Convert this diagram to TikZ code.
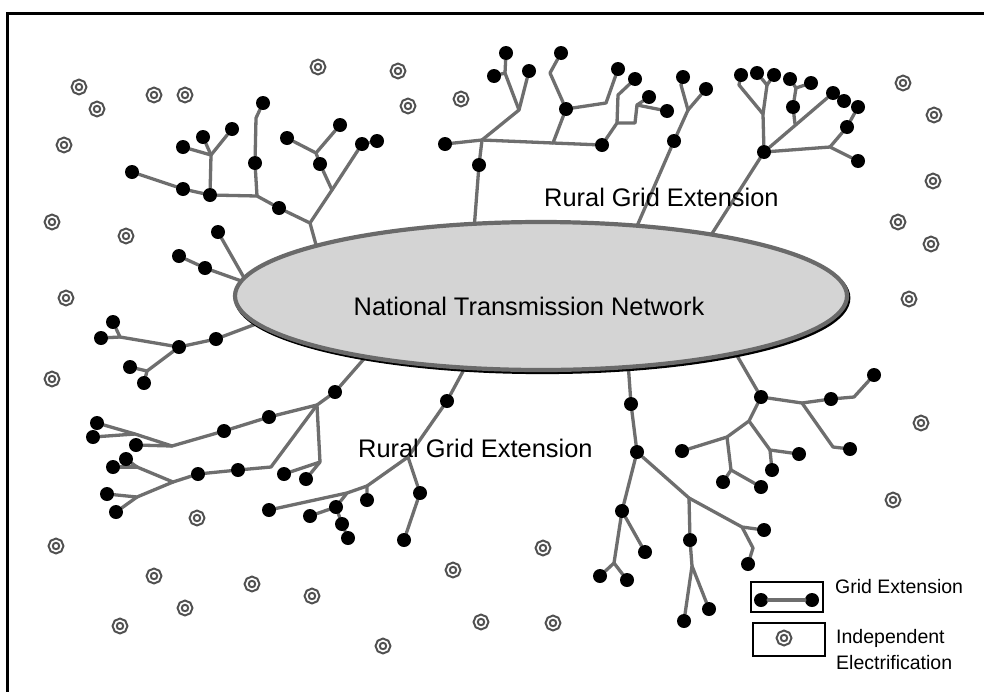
\documentclass[tikz,border=0pt]{standalone}
\usepackage{fontspec}
\setmainfont{Liberation Sans}
\pgfdeclarelayer{paper}
\pgfdeclarelayer{wires}
\pgfsetlayers{paper,wires,main}
\usetikzlibrary{shapes.geometric}
\definecolor{wiregray}{HTML}{6E6E6E}
\definecolor{ringgray}{HTML}{505050}
\definecolor{netfill}{HTML}{D4D4D4}
\definecolor{netline}{HTML}{6A6A6A}
\tikzset{
  wire/.style={draw=wiregray, line width=3.3pt, line join=round, line cap=round},
  dot/.style={circle, fill=black, inner sep=0pt, minimum size=14pt},
  indep/.style={circle, draw=ringgray, line width=2.1pt, double=white, double distance=1.7pt, inner sep=0pt, minimum size=10.7pt},
  bigtxt/.style={font=\fontsize{25.4pt}{30pt}\selectfont, inner sep=0pt},
  legtxt/.style={font=\fontsize{19.5pt}{23pt}\selectfont, inner sep=0pt, anchor=base west},
  legbox/.style={draw=black, line width=1.6pt, inner sep=0pt},
}
\begin{document}
\begin{tikzpicture}[x=1pt, y=-1pt]
\useasboundingbox (0,0) rectangle (984,691);
\clip (0,0) rectangle (984,691);
\begin{pgfonlayer}{paper}
  \fill[white] (0,0) rectangle (984,691);
\end{pgfonlayer}

% outer frame (runs off the right and bottom edges)
\draw[line width=2.7pt] (7.5,720) -- (7.5,13.3) -- (1010,13.3);

% central network
\node[ellipse, draw=black, line width=4.2pt, minimum width=612pt, minimum height=148pt, inner sep=0pt] (netshadow) at (542.3,298) {};
\node[ellipse, draw=netline, fill=netfill, line width=4.2pt, minimum width=612pt, minimum height=148pt, inner sep=0pt] (net) at (541,296) {};
\node[bigtxt, anchor=base] (nettext) at (529,315) {National Transmission Network};

% branch points and points where branches meet the network
\foreach \n/\x/\y in {
  A0/318/252, JA1/310/223, JA2/257/196, JA2b/256/118, JA3/211/155, JA4/332/190, JA5/316/153,
  B0/247/283,
  C0/264/321, JC1/120/337, JC2/147/371,
  D0/370/352, JD1/317/405, JD2/172/446, JD3/135/434, JD4/271/467, JD5/173/482, JD6/137/467, JD7/137/497, JD8/320/462,
  E0/468/362, JE1/408/457, JE2/367/486, JE3/347/493,
  F0/628/362, JF1/614/563, JF2/689/498, JF3/742/527, JF4/753/548, JF5/692/566,
  G0/732/347, JG1/802/403, JG2/854/397, JG3/833/447, JG4/749/421, JG5/727/437, JG6/770/450, JG7/731/470,
  H0/474/230, JH1/482/140, JH2/519/110, JH3/505/73, JH4/553/143, JH5/617/123, JH6/618/95, JH7/635/123, JH8/637/105, JH9/550/73, JH10/606/103,
  I0/634/233, JI1/688/110, JI2/681/85,
  J0/706/243, JJ1/763/114, JJ2/739/85, JJ3/767/85, JJ4/796/88, JJ5/795/124, JJ6/830/147}
  \coordinate (\n) at (\x,\y);

% connected villages
\foreach \n/\x/\y in {
  a1/279/208, a2/255/163, a3/263/103, a4/210/195, a5/183/189, a6/132/172, a7/183/147, a8/203/137, a9/232/129,
  a10/320/164, a11/287/138, a12/340/125, a13/362/144, a14/377/141,
  b1/218/232, b2/205/268, b3/179/256,
  c1/216/339, c2/179/347, c3/113/322, c4/101/338, c5/130/367, c6/144/383,
  d1/335/392, d2/269/417, d3/224/431, d4/97/423, d5/93/437, d6/136/445, d7/238/470, d8/198/474,
  d9/126/459, d10/113/467, d11/107/494, d12/116/512, d13/284/474, d14/306/479,
  e1/447/401, e2/420/493, e3/404/540, e4/367/500, e5/269/510, e6/336/507, e7/310/516, e8/342/524, e9/348/538,
  f1/631/404, f2/637/452, f3/622/511, f4/600/576, f5/627/580, f6/645/552, f7/764/530, f8/748/564, f9/690/540, f10/684/621, f11/709/609,
  g1/761/397, g2/831/399, g3/874/375, g4/850/449, g5/682/451, g6/799/454, g7/772/470, g8/723/482, g9/761/487,
  h1/479/165, h2/445/144, h3/506/53, h4/494/76, h5/529/71, h6/602/145, h7/566/109, h8/561/53, h9/618/69, h10/635/79, h11/649/97, h12/667/111,
  i1/674/141, i2/683/77, i3/706/89,
  j1/764/152, j2/741/75, j3/757/73, j4/774/75, j5/790/79, j6/811/83, j7/793/107, j8/833/93, j9/844/101,
  j10/858/161, j11/847/127, j12/858/107}
  \node[dot] (\n) at (\x,\y) {};

% villages with independent supply
\foreach \n/\x/\y in {
  p1/79/87, p2/97/109, p3/154/95, p4/185/95, p5/318/67, p6/64/145, p7/398/71, p8/408/106, p9/461/99,
  p10/903/83, p11/934/115, p12/933/181, p13/898/222, p14/931/244, p15/52/222, p16/126/236, p17/66/298,
  p18/909/299, p19/52/379, p20/921/423, p21/893/500, p22/56/546, p23/197/518, p24/154/576, p25/185/608,
  p26/120/626, p27/252/584, p28/312/596, p29/383/646, p30/453/570, p31/481/622, p32/543/548, p33/553/623}
  \node[indep] (\n) at (\x,\y) {};

\begin{pgfonlayer}{wires}
  % upper left
  \draw[wire] (A0) -- (JA1) -- (a1) -- (JA2) -- (a4) -- (a5) -- (a6);
  \draw[wire] (JA2) -- (a2) -- (JA2b) -- (a3);
  \draw[wire] (a4) -- (JA3) -- (a7);
  \draw[wire] (JA3) -- (a8);
  \draw[wire] (JA3) -- (a9);
  \draw[wire] (JA1) -- (JA4) -- (a10) -- (JA5) -- (a11);
  \draw[wire] (JA5) -- (a12);
  \draw[wire] (JA4) -- (a13) -- (a14);
  % left
  \draw[wire] (b1) -- (B0);
  \draw[wire] (b3) -- (b2) -- (B0);
  \draw[wire] (C0) -- (c1) -- (c2) -- (JC1) -- (c3);
  \draw[wire] (JC1) -- (c4);
  \draw[wire] (c2) -- (JC2) -- (c6);
  \draw[wire] (JC2) -- (c5);
  % lower left
  \draw[wire] (D0) -- (d1) -- (JD1) -- (d2) -- (d3) -- (JD2) -- (JD3) -- (d4);
  \draw[wire] (JD3) -- (d5);
  \draw[wire] (JD2) -- (d6);
  \draw[wire] (JD1) -- (JD4) -- (d7) -- (d8) -- (JD5) -- (JD6) -- (d9);
  \draw[wire] (JD6) -- (d10);
  \draw[wire] (JD5) -- (JD7) -- (d11);
  \draw[wire] (JD7) -- (d12);
  \draw[wire] (JD1) -- (JD8) -- (d13);
  \draw[wire] (JD8) -- (d14);
  % lower middle
  \draw[wire] (E0) -- (e1) -- (JE1) -- (e2) -- (e3);
  \draw[wire] (JE1) -- (JE2) -- (e4);
  \draw[wire] (JE2) -- (JE3) -- (e5);
  \draw[wire] (JE3) -- (e6) -- (e7);
  \draw[wire] (e6) -- (e8) -- (e9);
  % lower right
  \draw[wire] (F0) -- (f1) -- (f2) -- (f3) -- (JF1) -- (f4);
  \draw[wire] (JF1) -- (f5);
  \draw[wire] (f3) -- (f6);
  \draw[wire] (f2) -- (JF2) -- (JF3) -- (f7);
  \draw[wire] (JF3) -- (JF4) -- (f8);
  \draw[wire] (JF2) -- (f9) -- (JF5) -- (f10);
  \draw[wire] (JF5) -- (f11);
  \draw[wire] (G0) -- (g1) -- (JG1) -- (g2) -- (JG2) -- (g3);
  \draw[wire] (JG1) -- (JG3) -- (g4);
  \draw[wire] (g1) -- (JG4) -- (JG5) -- (g5);
  \draw[wire] (JG4) -- (JG6) -- (g6);
  \draw[wire] (JG6) -- (g7);
  \draw[wire] (JG5) -- (JG7) -- (g8);
  \draw[wire] (JG7) -- (g9);
  % top
  \draw[wire] (H0) -- (h1) -- (JH1) -- (h2);
  \draw[wire] (JH1) -- (JH2) -- (JH3) -- (h3);
  \draw[wire] (JH3) -- (h4);
  \draw[wire] (JH2) -- (h5);
  \draw[wire] (JH1) -- (JH4) -- (h6);
  \draw[wire] (JH4) -- (h7) -- (JH9) -- (h8);
  \draw[wire] (h7) -- (JH10) -- (h9);
  \draw[wire] (h6) -- (JH5) -- (JH6) -- (h10);
  \draw[wire] (JH5) -- (JH7) -- (JH8) -- (h12);
  \draw[wire] (JH8) -- (h11);
  % upper right
  \draw[wire] (I0) -- (i1) -- (JI1) -- (JI2) -- (i2);
  \draw[wire] (JI1) -- (i3);
  \draw[wire] (J0) -- (j1) -- (JJ1) -- (JJ2) -- (j2);
  \draw[wire] (JJ1) -- (JJ3) -- (j3);
  \draw[wire] (JJ3) -- (j4);
  \draw[wire] (j5) -- (JJ4) -- (j6);
  \draw[wire] (JJ4) -- (j7) -- (JJ5);
  \draw[wire] (j1) -- (j8);
  \draw[wire] (j1) -- (JJ6) -- (j10);
  \draw[wire] (JJ6) -- (j11) -- (j12);
\end{pgfonlayer}

% labels of the extension areas
\node[bigtxt, anchor=base west] (rge1) at (544,206) {Rural Grid Extension};
\node[bigtxt, anchor=base west] (rge2) at (358,457) {Rural Grid Extension};

% legend
\node[legbox, minimum width=72pt, minimum height=30pt] (key1) at (787,597) {};
\node[legbox, minimum width=72pt, minimum height=33pt] (key2) at (789,639.5) {};
\node[dot] (kd1) at (761,600) {};
\node[dot] (kd2) at (812,600) {};
\draw[wire] (kd1) -- (kd2);
\node[indep] (kp) at (784,638) {};
\node[legtxt] (kt1) at (835,593) {Grid Extension};
\node[legtxt] (kt2) at (836,643) {Independent};
\node[legtxt] (kt3) at (836,669) {Electrification};
\end{tikzpicture}
\end{document}
